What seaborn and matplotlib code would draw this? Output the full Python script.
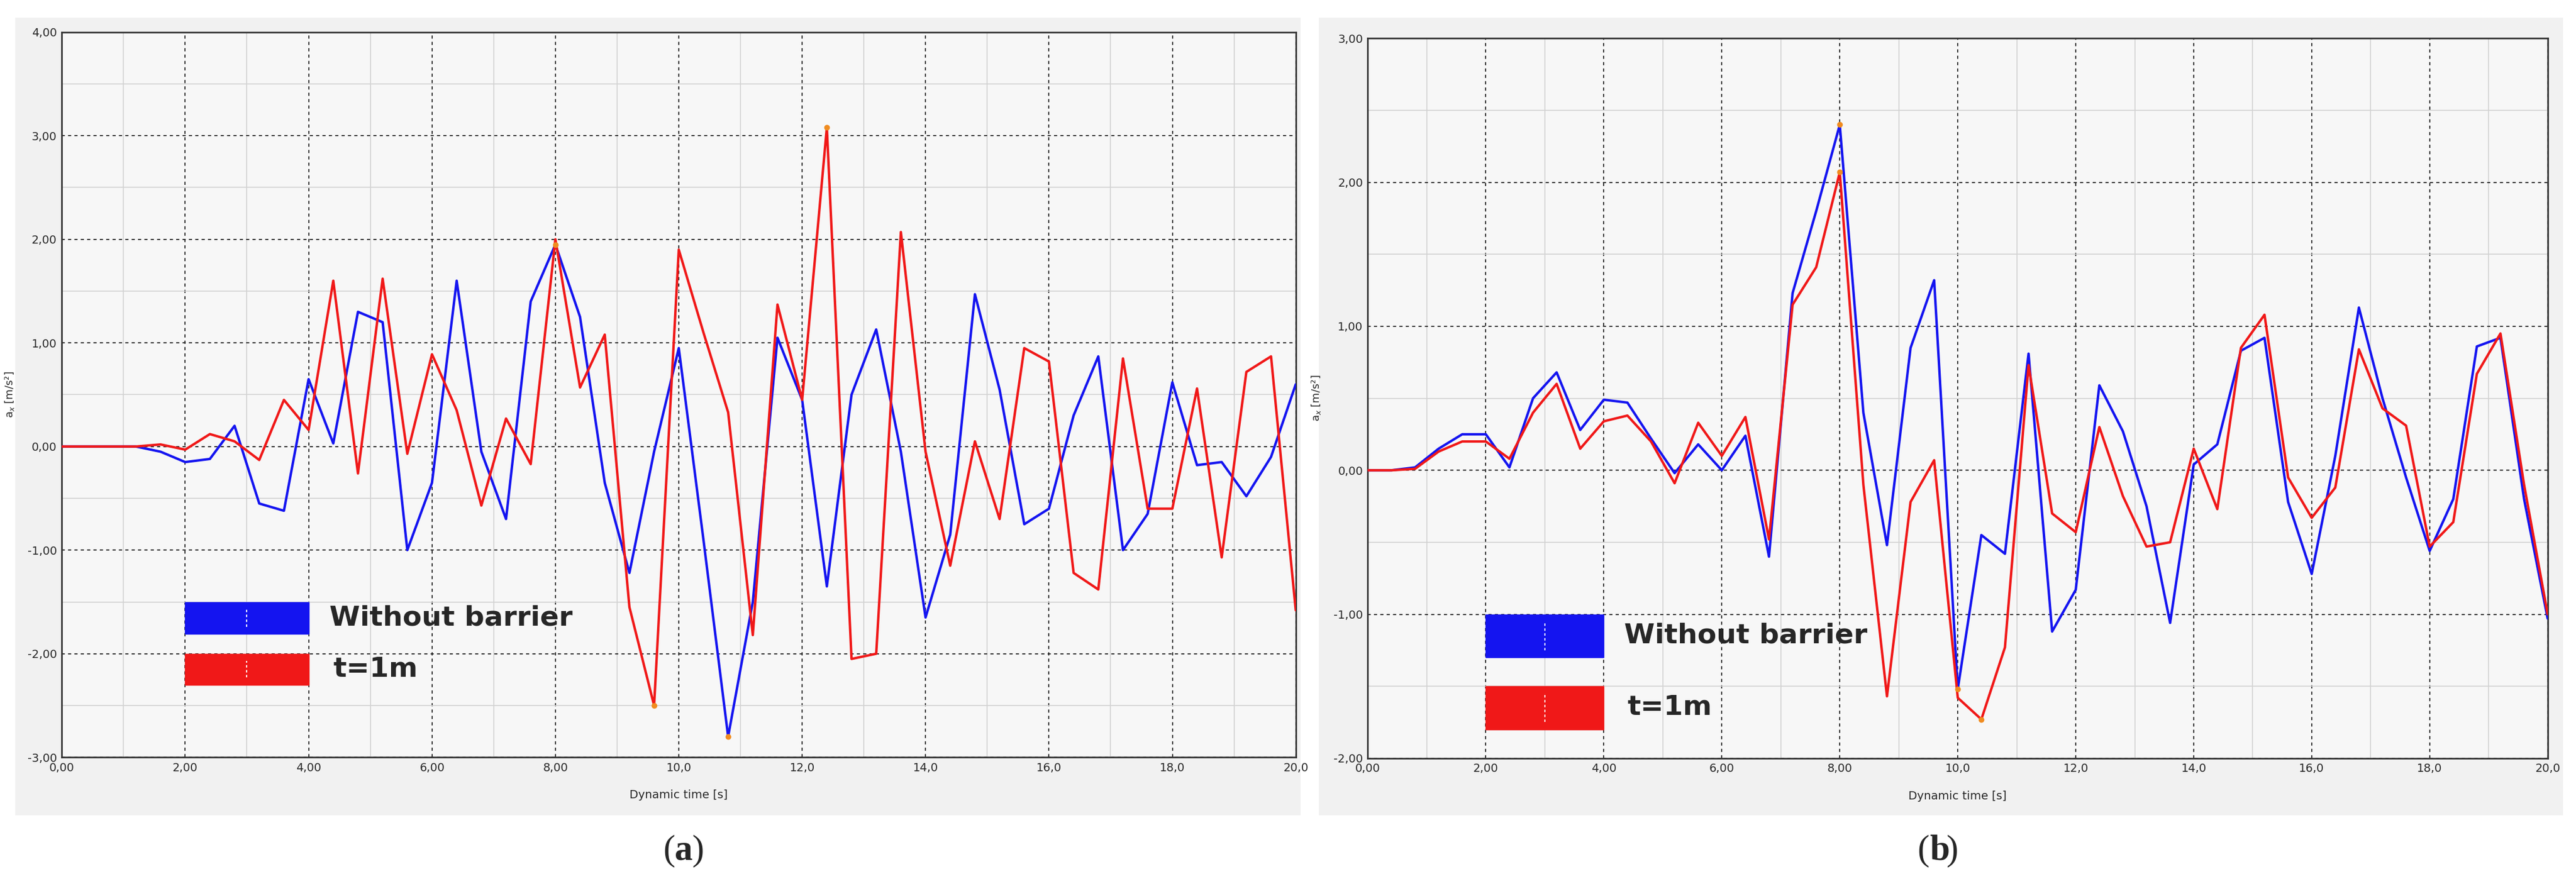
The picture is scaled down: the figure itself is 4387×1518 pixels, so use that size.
import numpy as np
import pandas as pd
import matplotlib.pyplot as plt
import seaborn as sns
from matplotlib.patches import Rectangle
from matplotlib.ticker import MultipleLocator, FuncFormatter

# time steps 0..20 s every 0.4 s
time = [round(0.4 * i, 1) for i in range(51)]

left_without = [0, 0, 0, 0, -0.05, -0.15, -0.12, 0.2, -0.55, -0.62, 0.65, 0.03, 1.3, 1.2, -1.0,
                -0.35, 1.6, -0.05, -0.7, 1.4, 1.95, 1.25, -0.35, -1.22, -0.05, 0.95, -0.9, -2.8,
                -1.5, 1.05, 0.45, -1.35, 0.5, 1.13, -0.05, -1.65, -0.85, 1.47, 0.55, -0.75, -0.6,
                0.3, 0.87, -1.0, -0.65, 0.62, -0.18, -0.15, -0.48, -0.1, 0.6]
left_t1m = [0, 0, 0, 0, 0.02, -0.03, 0.12, 0.05, -0.13, 0.45, 0.16, 1.6, -0.26, 1.62, -0.07,
            0.89, 0.35, -0.57, 0.27, -0.17, 2.0, 0.57, 1.08, -1.55, -2.5, 1.9, 1.1, 0.33, -1.82,
            1.37, 0.45, 3.08, -2.05, -2.0, 2.07, -0.05, -1.15, 0.05, -0.7, 0.95, 0.82, -1.22,
            -1.38, 0.85, -0.6, -0.6, 0.56, -1.07, 0.72, 0.87, -1.58]
right_without = [0, 0, 0.02, 0.15, 0.25, 0.25, 0.02, 0.5, 0.68, 0.28, 0.49, 0.47, 0.22, -0.02,
                 0.18, 0.0, 0.24, -0.6, 1.23, 1.8, 2.4, 0.4, -0.52, 0.85, 1.32, -1.52, -0.45,
                 -0.58, 0.81, -1.12, -0.83, 0.59, 0.27, -0.25, -1.06, 0.04, 0.18, 0.83, 0.92,
                 -0.22, -0.72, 0.1, 1.13, 0.5, -0.05, -0.56, -0.2, 0.86, 0.92, -0.2, -1.03]
right_t1m = [0, 0, 0.01, 0.13, 0.2, 0.2, 0.08, 0.4, 0.6, 0.15, 0.34, 0.38, 0.2, -0.09, 0.33,
             0.1, 0.37, -0.48, 1.15, 1.41, 2.07, -0.1, -1.57, -0.22, 0.07, -1.58, -1.73, -1.23,
             0.73, -0.3, -0.43, 0.3, -0.18, -0.53, -0.5, 0.15, -0.27, 0.85, 1.08, -0.05, -0.33,
             -0.12, 0.84, 0.43, 0.31, -0.53, -0.36, 0.67, 0.95, -0.1, -1.0]

BLUE = '#1414f0'
RED = '#f01818'

sns.set_style('white')
plt.rcParams['font.family'] = ['DejaVu Sans']

fig = plt.figure(figsize=(43.87, 15.18), dpi=100)
fig.patch.set_facecolor('white')


def fmt_x(v, pos):
    if v >= 10:
        return f'{v:.1f}'.replace('.', ',')
    return f'{v:.2f}'.replace('.', ',')


def draw_panel(rect, bg_rect, without, t1m, ylim, boxes, caption, cap_x):
    bg = fig.add_axes(bg_rect, zorder=-1)
    bg.set_facecolor('#f1f1f1')
    bg.set_xticks([]); bg.set_yticks([])
    for s in bg.spines.values():
        s.set_visible(False)

    ax = fig.add_axes(rect)
    ax.set_facecolor('#f7f7f7')
    df = pd.DataFrame({'t': time * 2, 'a': without + t1m,
                       'case': ['Without barrier'] * len(time) + ['t=1m'] * len(time)})
    sns.lineplot(data=df, x='t', y='a', hue='case', palette=[BLUE, RED], ax=ax,
                 linewidth=3, legend=False, zorder=3)
    # orange markers at extremes
    for ser in (without, t1m):
        arr = np.array(ser)
        for idx in (arr.argmax(), arr.argmin()):
            ax.plot(time[idx], arr[idx], 'o', color='#f08c20', ms=6, zorder=4)

    ax.set_xlim(0, 20)
    ax.set_ylim(*ylim)
    ax.xaxis.set_major_locator(MultipleLocator(2))
    ax.xaxis.set_minor_locator(MultipleLocator(1))
    ax.yaxis.set_major_locator(MultipleLocator(1))
    ax.yaxis.set_minor_locator(MultipleLocator(0.5))
    ax.xaxis.set_major_formatter(FuncFormatter(fmt_x))
    ax.yaxis.set_major_formatter(FuncFormatter(lambda v, p: f'{v:.2f}'.replace('.', ',')))
    ax.grid(which='major', color='#222222', linestyle=(0, (3, 3)), linewidth=1.3)
    ax.grid(which='minor', color='#d2d2d2', linestyle='-', linewidth=1.2)
    ax.tick_params(labelsize=14, length=0, pad=6)
    for s in ax.spines.values():
        s.set_color('#333333'); s.set_linewidth(2)
    ax.set_xlabel('Dynamic time [s]', fontsize=14, labelpad=20)
    ax.set_ylabel('a$_x$ [m/s²]', fontsize=13, labelpad=14)

    for (y0, y1), color, label in zip(boxes, [BLUE, RED], ['Without barrier', 't=1m']):
        ax.add_patch(Rectangle((0.1, y0), 0.1, y1 - y0, transform=ax.transAxes,
                               color=color, zorder=5))
        ax.plot([0.15, 0.15], [y0 + 0.01, y1 - 0.01], transform=ax.transAxes,
                color='white', ls=(0, (2, 2)), lw=1.5, zorder=6)
        ax.text(0.217 if label != 't=1m' else 0.22, (y0 + y1) / 2, label,
                transform=ax.transAxes, fontsize=34, fontweight='bold',
                family=['Liberation Sans Narrow', 'DejaVu Sans'],
                va='center', ha='left', zorder=6)

    fig.text(cap_x, 0.045, '(', fontsize=44, ha='right', va='center', family='Liberation Serif')
    fig.text(cap_x, 0.045, caption, fontsize=44, ha='left', va='center',
             fontweight='bold', family='Liberation Serif')
    fig.text(cap_x + 0.0065, 0.045, ')', fontsize=44, ha='left', va='center',
             family='Liberation Serif')


draw_panel([0.024, 0.150, 0.479, 0.814], [0.006, 0.085, 0.499, 0.895],
           left_without, left_t1m, (-3, 4),
           [(0.17, 0.214), (0.10, 0.143)], 'a', 0.262)
draw_panel([0.531, 0.149, 0.458, 0.808], [0.512, 0.085, 0.483, 0.895],
           right_without, right_t1m, (-2, 3),
           [(0.14, 0.20), (0.04, 0.10)], 'b', 0.749)

fig.savefig('out.png', dpi=100)
